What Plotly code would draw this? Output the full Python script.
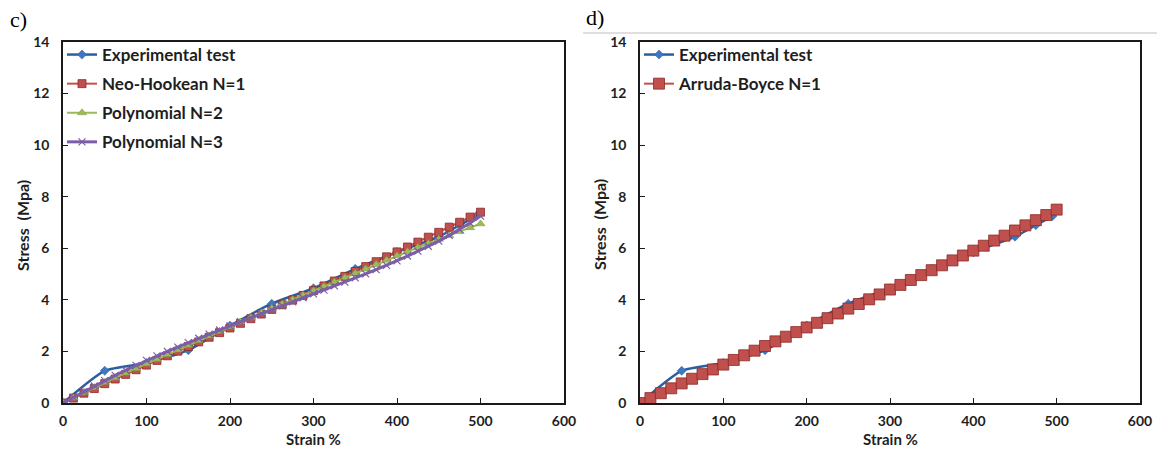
import plotly.graph_objects as go

# ---------------- data ----------------
exp_strain = [0, 50, 100, 150, 200, 250, 300, 350, 400, 450, 475, 495]
exp_stress = [0, 1.25, 1.55, 2.05, 3.0, 3.85, 4.45, 5.2, 5.85, 6.45, 6.9, 7.25]

model_strain = [0, 12.5, 25, 37.5, 50, 62.5, 75, 87.5, 100, 112.5, 125, 137.5, 150,
                162.5, 175, 187.5, 200, 212.5, 225, 237.5, 250, 262.5, 275, 287.5,
                300, 312.5, 325, 337.5, 350, 362.5, 375, 387.5, 400, 412.5, 425,
                437.5, 450, 462.5, 475, 487.5, 500]

neo_hookean = [0, 0.19, 0.38, 0.56, 0.75, 0.93, 1.11, 1.29, 1.47, 1.65, 1.83, 2.01,
               2.19, 2.37, 2.55, 2.73, 2.91, 3.09, 3.27, 3.45, 3.63, 3.81, 3.99, 4.17,
               4.36, 4.54, 4.73, 4.91, 5.10, 5.29, 5.48, 5.67, 5.86, 6.05, 6.24, 6.43,
               6.62, 6.82, 7.01, 7.21, 7.40]

poly_n2 = [0, 0.20, 0.40, 0.60, 0.80, 0.98, 1.16, 1.34, 1.52, 1.70, 1.88, 2.06, 2.24,
           2.42, 2.60, 2.78, 2.96, 3.14, 3.32, 3.50, 3.67, 3.84, 4.01, 4.18, 4.35,
           4.52, 4.69, 4.86, 5.03, 5.20, 5.37, 5.54, 5.71, 5.87, 6.03, 6.19, 6.35,
           6.50, 6.65, 6.80, 6.95]

poly_n3 = [0, 0.22, 0.44, 0.66, 0.87, 1.07, 1.27, 1.46, 1.65, 1.83, 2.00, 2.17, 2.34,
           2.51, 2.67, 2.83, 2.99, 3.15, 3.31, 3.46, 3.62, 3.77, 3.92, 4.08, 4.23,
           4.38, 4.54, 4.69, 4.85, 5.01, 5.17, 5.34, 5.51, 5.70, 5.89, 6.08, 6.28,
           6.50, 6.73, 6.98, 7.25]

arruda_boyce = [0, 0.19, 0.38, 0.57, 0.76, 0.94, 1.12, 1.30, 1.49, 1.67, 1.85, 2.03,
                2.21, 2.39, 2.57, 2.75, 2.93, 3.11, 3.29, 3.47, 3.66, 3.84, 4.02, 4.21,
                4.40, 4.58, 4.77, 4.96, 5.15, 5.34, 5.53, 5.72, 5.91, 6.10, 6.30, 6.49,
                6.69, 6.89, 7.09, 7.29, 7.50]

x_ticks = [0, 100, 200, 300, 400, 500, 600]
y_ticks = [0, 2, 4, 6, 8, 10, 12, 14]

# ---------------- style ----------------
BLUE_LINE = "#2a5ea3"
BLUE_MK = "#3f78c0"
RED = "#c0504d"
RED_EDGE = "#8c2a26"
GREEN = "#9bbb59"
PURPLE = "#7b5ea7"
FONT = "Lato"
TXT = "#1e1e1e"

W, H = 1157, 450
def px_x(p):
    return p / W
def px_y(p):
    return 1 - p / H

fig = go.Figure()

def exp_trace(xa, ya, leg):
    return go.Scatter(x=exp_strain, y=exp_stress, name="Experimental test",
                      mode="lines+markers", line=dict(color=BLUE_LINE, width=2.5, shape="spline", smoothing=0.6),
                      marker=dict(symbol="diamond", size=7, color=BLUE_MK, line=dict(color=BLUE_LINE, width=0.5)),
                      xaxis=xa, yaxis=ya, legend=leg, legendgroup=leg + "a")

# left panel
fig.add_trace(exp_trace("x", "y", "legend"))
fig.add_trace(go.Scatter(x=model_strain, y=neo_hookean, name="Neo-Hookean N=1", mode="lines+markers",
                         line=dict(color=RED, width=2),
                         marker=dict(symbol="square", size=8, color=RED, line=dict(color=RED_EDGE, width=0.8)),
                         xaxis="x", yaxis="y", legend="legend", legendgroup="lb"))
fig.add_trace(go.Scatter(x=model_strain, y=poly_n2, name="Polynomial N=2", mode="lines+markers",
                         line=dict(color=GREEN, width=2),
                         marker=dict(symbol="triangle-up", size=8, color=GREEN, line=dict(color="#7d9a3f", width=0.5)),
                         xaxis="x", yaxis="y", legend="legend", legendgroup="lc"))
fig.add_trace(go.Scatter(x=model_strain, y=poly_n3, name="Polynomial N=3", mode="lines+markers",
                         line=dict(color=PURPLE, width=3),
                         marker=dict(symbol="x-thin", size=7, color=PURPLE, line=dict(color=PURPLE, width=1.2)),
                         xaxis="x", yaxis="y", legend="legend", legendgroup="ld"))

# right panel
fig.add_trace(exp_trace("x2", "y2", "legend2"))
fig.add_trace(go.Scatter(x=model_strain, y=arruda_boyce, name="Arruda-Boyce N=1", mode="lines+markers",
                         line=dict(color=RED, width=2),
                         marker=dict(symbol="square", size=11, color=RED, line=dict(color=RED_EDGE, width=0.8)),
                         xaxis="x2", yaxis="y2", legend="legend2", legendgroup="rb"))

axis_common = dict(showgrid=False, zeroline=False, showline=True, mirror=True, automargin=False,
                   linecolor="#1a1a1a", linewidth=1.6, ticks="inside", ticklen=5,
                   tickcolor="#1a1a1a", tickwidth=1.2,
                   tickfont=dict(family=FONT, size=14, color=TXT, weight="bold"))

title_font = dict(family=FONT, size=15, color=TXT, weight="bold")
leg_font = dict(family=FONT, size=17, color=TXT, weight="bold")
ydom = [px_y(403), px_y(42)]
fig.update_layout(
    width=W, height=H, paper_bgcolor="white", plot_bgcolor="white",
    margin=dict(l=0, r=0, t=0, b=0, autoexpand=False),
    xaxis=dict(domain=[px_x(63), px_x(564)], range=[0, 600], tickvals=x_ticks,
               ticklabelstandoff=4, anchor="y", **axis_common),
    yaxis=dict(domain=ydom, range=[0, 14], tickvals=y_ticks,
               ticklabelstandoff=9, anchor="x", **axis_common),
    xaxis2=dict(domain=[px_x(640), px_x(1140)], range=[0, 600], tickvals=x_ticks,
                ticklabelstandoff=4, anchor="y2", **axis_common),
    yaxis2=dict(domain=ydom, range=[0, 14], tickvals=y_ticks,
                ticklabelstandoff=9, anchor="x2", **axis_common),
    legend=dict(x=px_x(62), y=px_y(37), xanchor="left", yanchor="top", bgcolor="rgba(0,0,0,0)",
                font=leg_font, tracegroupgap=4),
    legend2=dict(x=px_x(639), y=px_y(37), xanchor="left", yanchor="top", bgcolor="rgba(0,0,0,0)",
                 font=leg_font, tracegroupgap=4),
    showlegend=True,
)

# axis titles
for xc in (313, 890):
    fig.add_annotation(text="Strain %", x=px_x(xc), y=px_y(439), xref="paper", yref="paper",
                       xanchor="center", yanchor="middle", showarrow=False, font=title_font)
for xc in (22, 599):
    fig.add_annotation(text="Stress  (Mpa)", x=px_x(xc), y=px_y(225), xref="paper", yref="paper",
                       xanchor="center", yanchor="middle", showarrow=False, textangle=-90,
                       font=dict(family=FONT, size=16, color=TXT, weight="bold"))

fig.add_annotation(text="c)", x=px_x(8), y=px_y(19), xref="paper", yref="paper", xanchor="left",
                   yanchor="middle", showarrow=False,
                   font=dict(family="Liberation Serif", size=22, color="black"))
fig.add_annotation(text="d)", x=px_x(584), y=px_y(17), xref="paper", yref="paper", xanchor="left",
                   yanchor="middle", showarrow=False,
                   font=dict(family="Liberation Serif", size=22, color="black"))
fig.add_shape(type="line", x0=px_x(583), x1=1, y0=px_y(33), y1=px_y(33), xref="paper", yref="paper",
              line=dict(color="#d4d4d4", width=1.5))

fig.write_html("out.html", config={"displayModeBar": False},
               post_script="document.body.style.margin='0';document.body.style.overflow='hidden';")
